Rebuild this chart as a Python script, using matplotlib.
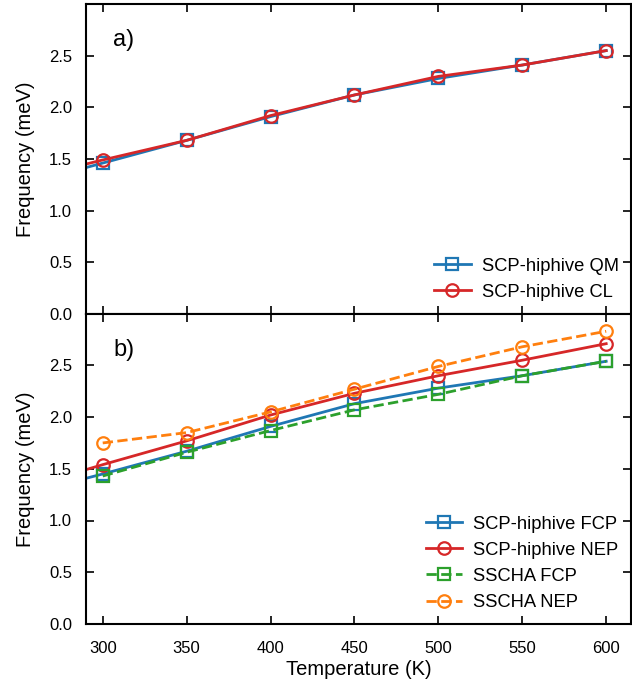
import numpy as np
import matplotlib.pyplot as plt

plt.rcParams['font.family'] = ['Liberation Sans', 'DejaVu Sans']

# temperatures (K); SCP-hiphive curves also have a 250 K point (off-axis, line runs to edge)
T_scp = [250, 300, 350, 400, 450, 500, 550, 600]
T_sscha = [300, 350, 400, 450, 500, 550, 600]

# panel a
qm = [1.24, 1.46, 1.68, 1.91, 2.12, 2.28, 2.41, 2.55]
cl = [1.29, 1.49, 1.68, 1.92, 2.12, 2.30, 2.41, 2.55]

# panel b
scp_fcp = [1.24, 1.45, 1.67, 1.91, 2.13, 2.28, 2.40, 2.54]
scp_nep = [1.30, 1.54, 1.77, 2.02, 2.23, 2.40, 2.55, 2.71]
sscha_fcp = [1.43, 1.66, 1.87, 2.07, 2.22, 2.40, 2.54]
sscha_nep = [1.75, 1.85, 2.05, 2.27, 2.49, 2.68, 2.83]

blue = '#1f77b4'
red = '#d62728'
green = '#2ca02c'
orange = '#ff7f0e'

fig = plt.figure(figsize=(6.32, 6.94), dpi=100)
ax1 = fig.add_axes([0.136, 0.548, 0.863, 0.446])
ax2 = fig.add_axes([0.136, 0.101, 0.863, 0.447], sharex=ax1)

kw = dict(lw=2.0, mew=1.6, mfc='none')
ax1.plot(T_scp, qm, '-s', color=blue, ms=8.5, label='SCP-hiphive QM', **kw)
ax1.plot(T_scp, cl, '-o', color=red, ms=9, label='SCP-hiphive CL', **kw)

ax2.plot(T_scp, scp_fcp, '-s', color=blue, ms=8.5, label='SCP-hiphive FCP', **kw)
ax2.plot(T_scp, scp_nep, '-o', color=red, ms=9, label='SCP-hiphive NEP', **kw)
ax2.plot(T_sscha, sscha_fcp, '--s', color=green, ms=8.5, label='SSCHA FCP', **kw)
ax2.plot(T_sscha, sscha_nep, '--o', color=orange, ms=9, label='SSCHA NEP', **kw)

for ax, lab in [(ax1, 'a)'), (ax2, 'b)')]:
    ax.set_xlim(290, 615)
    ax.set_ylim(0, 3.0)
    ax.set_yticks([0.0, 0.5, 1.0, 1.5, 2.0, 2.5])
    ax.set_xticks([300, 350, 400, 450, 500, 550, 600])
    ax.tick_params(direction='in', top=True, right=True, length=6, width=1.2, labelsize=12)
    ax.tick_params(axis='y', pad=10)
    ax.tick_params(axis='x', pad=12)
    for s in ax.spines.values():
        s.set_linewidth(1.5)
    ax.set_ylabel('Frequency (meV)', fontsize=14.5, labelpad=10)
    ax.text(0.05, 0.884, lab, transform=ax.transAxes, fontsize=17, va='center')
    ax.legend(loc='lower right', frameon=False, fontsize=13.2, handlelength=2.0,
              labelspacing=0.5, borderaxespad=0.3, handletextpad=0.6)

ax1.tick_params(labelbottom=False)
ax2.set_xlabel('Temperature (K)', fontsize=14.5, labelpad=3)

fig.savefig('out.png', dpi=100)
